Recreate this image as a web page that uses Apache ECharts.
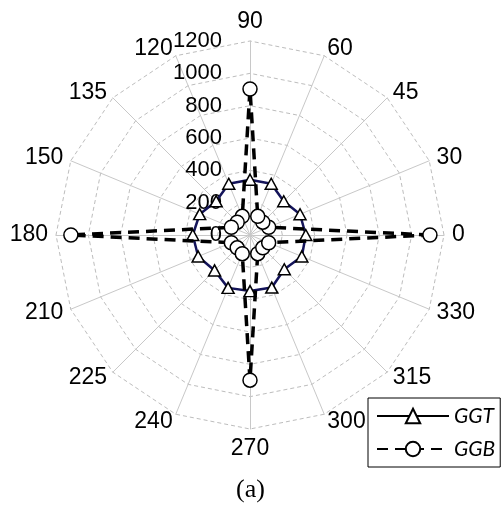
<!DOCTYPE html>
<html><head><meta charset="utf-8">
<script src="https://cdn.jsdelivr.net/npm/echarts@6/dist/echarts.min.js"></script>
<style>html,body{margin:0;padding:0;background:#fff}#c{width:504px;height:523px}</style>
</head><body><div id="c"></div>
<script>
// Spoke labels (counter-clockwise from the right)
const angleLabels = ['0','30','45','60','90','120','135','150','180','210','225','240','270','300','315','330'];
// Radial tick labels
const radialTicks = [0, 200, 400, 600, 800, 1000, 1200];
// Series values
const ggt = [345, 335, 295, 343, 342, 343, 296, 337, 354, 347, 310, 354, 347, 352, 300, 347];
const ggb = [1113, 125, 112, 125, 903, 125, 112, 125, 1108, 125, 112, 125, 898, 125, 112, 125];

const rMin = radialTicks[0], rMax = radialTicks[radialTicks.length - 1];
const labelAxisIndex = angleLabels.indexOf('90');

const indicator = angleLabels.map((name, i) => {
  const ind = { name: name, min: rMin, max: rMax };
  if (i === labelAxisIndex) {
    ind.axisLabel = { show: true, showMinLabel: true, showMaxLabel: true, margin: 28,
      formatter: v => String(v),
      fontSize: 22, color: '#000', fontFamily: 'Liberation Sans, Arial, sans-serif' };
  }
  return ind;
});

const chart = echarts.init(document.getElementById('c'), null, { renderer: 'canvas' });
chart.setOption({
  animation: false,
  backgroundColor: '#fff',
  title: {
    text: '(a)', left: 236, top: 477, padding: 0,
    textStyle: { fontFamily: 'Liberation Serif, Times New Roman, serif', fontSize: 26, fontWeight: 'normal', color: '#000' }
  },
  legend: {
    orient: 'vertical', left: 368, top: 398,
    data: ['GGT', 'GGB'],
    itemWidth: 72, itemHeight: 18, itemGap: 9,
    padding: [6, 5, 6, 8],
    borderColor: '#000', borderWidth: 1, borderRadius: 0,
    backgroundColor: '#fff',
    selectedMode: false,
    textStyle: { fontFamily: 'Lato, sans-serif', fontStyle: 'italic', fontSize: 21, color: '#000', lineHeight: 24 }
  },
  grid: { show: false, left: 0, top: 0, width: 1, height: 1 },
  xAxis: { type: 'value', show: false },
  yAxis: { type: 'value', show: false },
  radar: {
    center: [250, 235],
    radius: 194,
    startAngle: 0,
    shape: 'polygon',
    splitNumber: radialTicks.length - 1,
    indicator: indicator,
    nameGap: 8,
    axisName: { color: '#000', fontSize: 23, fontFamily: 'Liberation Sans, Arial, sans-serif' },
    axisLine: { show: true, lineStyle: { color: '#c8c8c8', width: 1 } },
    axisTick: { show: false },
    axisLabel: { show: false },
    splitLine: { show: true, lineStyle: { color: '#bdbdbd', width: 1, type: [4, 3] } },
    splitArea: { show: false }
  },
  series: [
    { type: 'line', name: 'GGT', data: [], symbol: 'triangle', symbolSize: 14,
      lineStyle: { color: '#000', width: 2 },
      itemStyle: { color: '#fff', borderColor: '#000', borderWidth: 1.5 } },
    { type: 'line', name: 'GGB', data: [], symbol: 'circle', symbolSize: 14,
      lineStyle: { color: '#000', width: 3.5, type: [11, 7] },
      itemStyle: { color: '#fff', borderColor: '#000', borderWidth: 1.5 } },
    { type: 'radar', name: 'GGT', z: 3,
      symbol: 'triangle', symbolSize: [12, 11],
      lineStyle: { color: '#14145a', width: 2.5 },
      itemStyle: { color: '#fff', borderColor: '#000', borderWidth: 1.5 },
      data: [{ name: 'GGT', value: ggt }] },
    { type: 'radar', name: 'GGB', z: 4,
      symbol: 'circle', symbolSize: 14,
      lineStyle: { color: '#000', width: 3.5, type: [11, 7] },
      itemStyle: { color: '#fff', borderColor: '#000', borderWidth: 1.5 },
      data: [{ name: 'GGB', value: ggb }] }
  ]
});
</script>
</body></html>
